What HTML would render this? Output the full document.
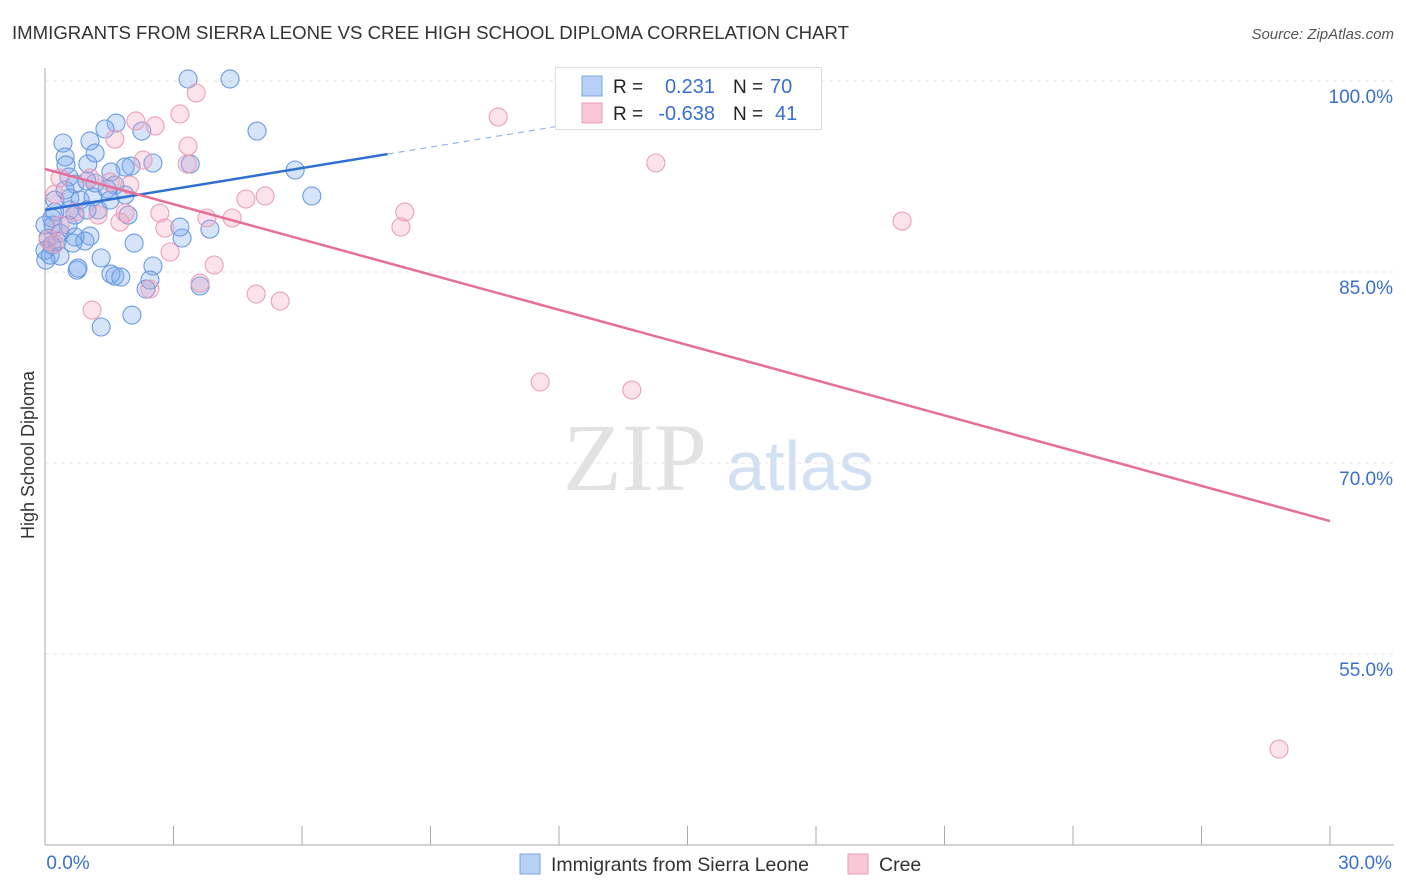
<!DOCTYPE html>
<html><head><meta charset="utf-8"><style>
body{margin:0;background:#fff;font-family:"Liberation Sans",sans-serif;}
#wrap{position:relative;width:1406px;height:892px;overflow:hidden;}
</style></head><body>
<div id="wrap">
<svg id="chart" width="1406" height="892" xmlns="http://www.w3.org/2000/svg">
<text x="12" y="39" font-size="18" fill="#333" textLength="837" lengthAdjust="spacingAndGlyphs">IMMIGRANTS FROM SIERRA LEONE VS CREE HIGH SCHOOL DIPLOMA CORRELATION CHART</text>
<text x="1394" y="39" font-size="15" fill="#555" font-style="italic" text-anchor="end">Source: ZipAtlas.com</text>
<text transform="translate(34,455) rotate(-90)" font-size="18" fill="#333" text-anchor="middle">High School Diploma</text>
<g>
<text x="635" y="490" font-family="Liberation Serif" font-size="96" fill="#e2e2e2" text-anchor="middle">ZIP</text>
<text x="800" y="490" font-size="70" fill="#d2e0f3" text-anchor="middle">atlas</text>
</g>
<g id="grid"></g><g id="axes"></g><g id="pts"></g><g id="trend"></g>
<g>
<rect x="555.5" y="67.5" width="266" height="62" fill="#fff" stroke="#ddd"/>
<rect x="582" y="76" width="20" height="20" fill="#b7d0f3" stroke="#7aa5e6"/>
<rect x="582" y="103" width="20" height="20" fill="#f8c6d5" stroke="#ec9bb5"/>
<text x="613" y="93" font-size="19" fill="#222">R = </text><text x="715" y="93" font-size="20" fill="#3a70cc" text-anchor="end">0.231</text>
<text x="733" y="93" font-size="19" fill="#222">N = </text><text x="770" y="93" font-size="20" fill="#3a70cc">70</text>
<text x="613" y="120" font-size="19" fill="#222">R = </text><text x="715" y="120" font-size="20" fill="#3a70cc" text-anchor="end">-0.638</text>
<text x="733" y="120" font-size="19" fill="#222">N = </text><text x="775" y="120" font-size="20" fill="#3a70cc">41</text>
</g>
<g>
<rect x="520" y="854" width="20" height="20" fill="#b7d0f3" stroke="#7aa5e6"/>
<text x="551" y="871" font-size="19.5" fill="#333">Immigrants from Sierra Leone</text>
<rect x="848" y="854" width="20" height="20" fill="#f8c6d5" stroke="#ec9bb5"/>
<text x="879" y="871" font-size="19.5" fill="#333">Cree</text>
</g>
</svg>
</div>
<script>
const blueX=[3.34,4.32,1.66,1.40,2.26,4.95,0.42,1.05,0.47,1.17,0.49,1.00,2.52,2.01,1.87,3.39,5.84,0.56,0.70,0.98,1.54,1.63,1.45,6.23,0.23,0.82,1.12,1.24,0.58,0.98,0.23,0.70,1.94,0.16,0.19,0.35,0.70,1.05,3.15,3.85,3.20,0.93,0.65,0.28,0.07,2.08,0.12,0.35,1.31,0.02,2.52,0.75,0.77,1.54,1.63,1.77,2.45,2.36,3.62,2.03,1.31,0.47,1.17,0.00,0.16,0.54,1.87,1.52,0.00,0.58];
const blueY=[100.16,100.16,96.70,96.23,96.07,96.07,95.13,95.29,94.03,94.34,93.40,93.48,93.56,93.32,93.24,93.48,93.01,92.46,91.91,92.14,92.85,91.83,91.52,90.97,90.65,90.65,90.89,89.87,90.81,89.87,89.71,89.47,89.47,89.24,88.69,88.06,87.75,87.82,88.53,88.37,87.67,87.43,87.27,87.43,87.67,87.27,86.33,86.25,86.10,85.94,85.47,85.15,85.31,84.84,84.68,84.60,84.37,83.66,83.90,81.62,80.68,91.44,91.99,88.69,87.12,88.69,91.05,90.65,86.7,89.87];
const pinkX=[3.53,10.58,2.12,3.15,2.57,1.63,3.34,2.29,3.32,14.26,1.05,1.52,0.35,0.23,5.14,4.69,1.98,8.40,2.68,3.78,4.37,1.87,20.01,8.31,2.80,1.75,1.24,0.70,0.07,0.23,2.92,3.95,4.93,5.49,1.10,2.45,3.62,11.56,13.70,28.81,0.35];
const pinkY=[99.06,97.17,96.86,97.41,96.47,95.44,94.89,93.79,93.48,93.56,92.38,92.07,92.38,91.12,90.97,90.73,91.83,89.71,89.63,89.24,89.24,89.63,89.00,88.53,88.45,88.92,89.47,89.71,87.51,87.20,86.57,85.55,83.27,82.72,82.01,83.66,84.13,76.36,75.73,47.53,88.69];
const yTicks=[100,85,70,55];
const yTickLabels=["100.0%","85.0%","70.0%","55.0%"];
const xTickLabels=["0.0%","30.0%"];
const blueTrend=[89.87,0.549];
const pinkTrend=[93.09,-0.9217];
const blueSolidEnd=8.0, blueDashEnd=12.0;

const X0=45,X1=1330,Y100=81,PX_PER=12.733;
const sx=v=>X0+(v/30)*(X1-X0);
const sy=v=>Y100+(100-v)*PX_PER;
const NS="http://www.w3.org/2000/svg";
function mk(tag,attrs,parent){const e=document.createElementNS(NS,tag);for(const k in attrs)e.setAttribute(k,attrs[k]);parent.appendChild(e);return e;}
const grid=document.getElementById('grid'),axes=document.getElementById('axes'),pts=document.getElementById('pts'),trend=document.getElementById('trend');
yTicks.forEach((t,i)=>{
  const l=mk('line',{x1:X0,x2:1394,y1:sy(t),y2:sy(t),stroke:'#e4e4e4','stroke-dasharray':'4,4'},grid);
  
  
  const tx=mk('text',{x:1393,y:sy(t)+22,'font-size':19,fill:'#3a70cc','text-anchor':'end'},axes);
  tx.textContent=yTickLabels[i];
  
  
});
const ax=mk('line',{x1:X0,x2:1394,y1:845,y2:845,stroke:'#aaa'},axes);


const ay=mk('line',{x1:X0,x2:X0,y1:68,y2:845,stroke:'#aaa'},axes);


for(let k=1;k<=10;k++){
  const t=mk('line',{x1:sx(k*3),x2:sx(k*3),y1:826,y2:845,stroke:'#aaa'},axes);
  
  
}
[[0,68],[30,1365]].forEach((p,i)=>{
  const t=mk('text',{x:p[1],y:869,'font-size':19,fill:'#3a70cc','text-anchor':'middle'},axes);
  t.textContent=xTickLabels[i];
  
  
});
function drawPts(xs,ys,fill,stroke,name){
  xs.forEach((x,i)=>{
    const c=mk('circle',{cx:sx(x),cy:sy(ys[i]),r:9,fill:fill,stroke:stroke,'stroke-width':1.1},pts);
    
    
  });
}
drawPts(blueX,blueY,'rgba(120,165,235,0.3)','#6b9ae0','point-sierra-leone');
drawPts(pinkX,pinkY,'rgba(242,160,188,0.3)','#eba0ba','point-cree');
const f=(tr,x)=>tr[0]+tr[1]*x;
const b1=mk('line',{x1:sx(0),y1:sy(f(blueTrend,0)),x2:sx(blueSolidEnd),y2:sy(f(blueTrend,blueSolidEnd)),stroke:'#2f6fd1','stroke-width':2.5},trend);


const b2=mk('line',{x1:sx(blueSolidEnd),y1:sy(f(blueTrend,blueSolidEnd)),x2:sx(blueDashEnd),y2:sy(f(blueTrend,blueDashEnd)),stroke:'#8ab0e8','stroke-width':1.1,'stroke-dasharray':'6,5'},trend);


const p1=mk('line',{x1:sx(0),y1:sy(f(pinkTrend,0)),x2:sx(30),y2:sy(f(pinkTrend,30)),stroke:'#e56f9a','stroke-width':2.5},trend);


</script>
</body></html>
